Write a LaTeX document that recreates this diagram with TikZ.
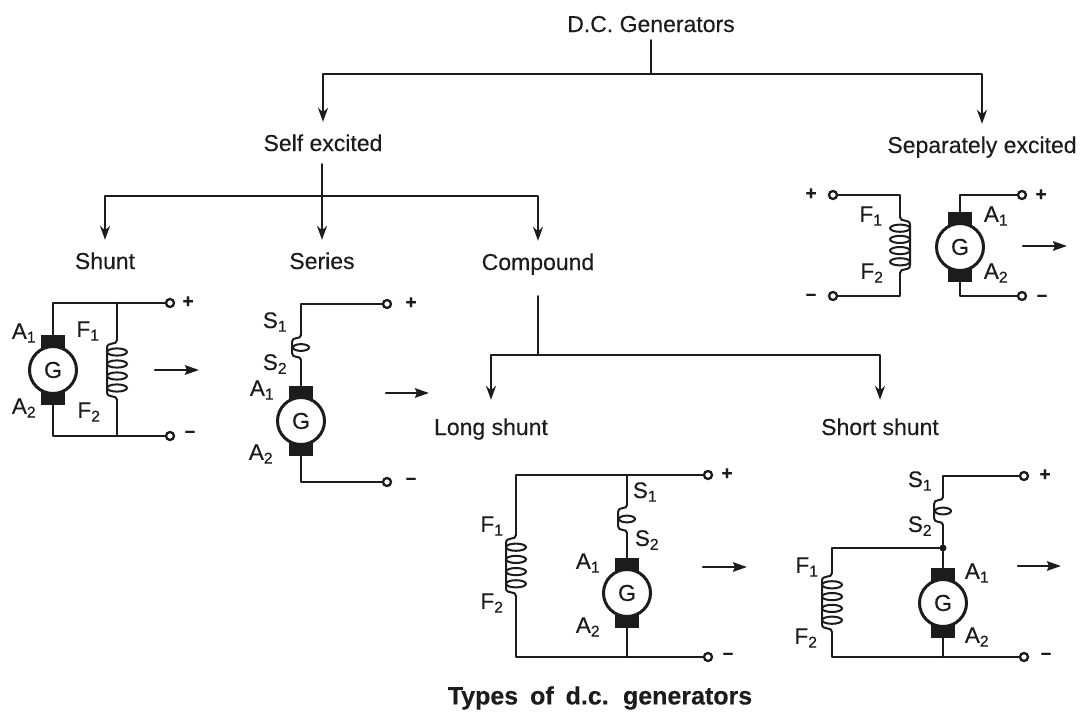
\documentclass[tikz,border=0pt]{standalone}
\usepackage{fontspec}
\setmainfont[FakeBold=0.3]{Liberation Sans}
\usetikzlibrary{arrows.meta}
\definecolor{ink}{HTML}{1C1C1C}
\tikzset{
  wire/.style={draw=ink,line width=2.2pt,line cap=round,line join=round},
  tip/.style={wire,-{Stealth[length=14pt,width=10pt]}},
  loadarrow/.style={wire,line width=2.2pt,-{Stealth[length=14pt,width=9.5pt,inset=2pt]}},
  treelabel/.style={text=ink,font=\fontsize{23}{25}\selectfont,text height=17pt,text depth=1pt,inner xsep=0pt,inner ysep=12pt},
  tag/.style={text=ink,font=\fontsize{22.5}{24}\selectfont,inner sep=0pt},
  sign/.style={text=ink,font=\bfseries\fontsize{19}{20}\selectfont,inner sep=0pt},
  gencirc/.style={circle,draw=ink,line width=3pt,fill=white,minimum size=47pt,inner sep=0pt,text=ink,font=\fontsize{23}{24}\selectfont},
  brush/.style={rectangle,fill=ink,minimum width=24pt,minimum height=13pt,inner sep=0pt},
  terminal/.style={circle,draw=ink,line width=2.3pt,fill=white,minimum size=8pt,inner sep=0pt},
  dotnode/.style={circle,fill=ink,minimum size=7pt,inner sep=0pt},
  coilline/.style={draw=ink,line width=2pt,line cap=round},
}
% name, x, y
\newcommand\gen[3]{%
  \node[brush] (#1t) at (#2,#3-29) {};
  \node[brush] (#1b) at (#2,#3+28) {};
  \node[gencirc] (#1) at (#2,#3) {G};
}
% name, x, ytop, ybottom, side (+1 right bulge of the return line / -1), number of loops
\newcommand\coil[6]{%
  \coordinate (#1t) at (#2,#3);
  \coordinate (#1b) at (#2,#4);
  \draw[coilline] (#1t) .. controls (#2,#3+6) and (#2+#5*10,#3+1) .. (#2+#5*10,#3+8)
     -- (#2+#5*10,#4-8) .. controls (#2+#5*10,#4-1) and (#2,#4-6) .. (#1b);
  \foreach \k in {1,...,#6}{
    \pgfmathsetmacro\yy{#3+(#4-#3)*\k/(#6+1)}
    \draw[coilline] (#2,\yy) ellipse [x radius=10pt,y radius=3.6pt];
  }
}
\newcommand\smallcoil[4]{%
  \coordinate (#1t) at (#2,#3);
  \coordinate (#1b) at (#2,#4);
  \pgfmathsetmacro\ym{(#3+#4)/2}
  \draw[coilline] (#1t) .. controls (#2,#3+5) and (#2-9,#3+1) .. (#2-9,#3+7)
     -- (#2-9,#4-7) .. controls (#2-9,#4-1) and (#2,#4-5) .. (#1b);
  \draw[coilline] (#2,\ym) ellipse [x radius=8pt,y radius=3.4pt];
}
\begin{document}
\begin{tikzpicture}[x=1pt,y=-1pt]
\useasboundingbox (0,0) rectangle (1080,712);
% ---------- tree
\node[treelabel,inner ysep=7pt] (root) at (651,24) {D.C. Generators};
\node[treelabel] (self) at (323,143) {Self excited};
\node[treelabel] (sep) at (982,145) {Separately excited};
\node[treelabel] (shunt) at (105,261) {Shunt};
\node[treelabel] (series) at (322,261) {Series};
\node[treelabel] (comp) at (538,262) {Compound};
\node[treelabel] (long) at (491,427) {Long shunt};
\node[treelabel] (short) at (880,427) {Short shunt};
\coordinate (rj) at (651,74);
\coordinate (sj) at (322,196);
\coordinate (cj) at (538,355);
\draw[wire] (root.south) -- (rj);
\draw[tip] (rj) -| (self);
\draw[tip] (rj) -| (sep);
\draw[tip] (self.south -| sj) -- (series);
\draw[tip] (sj) -| (shunt);
\draw[tip] (sj) -| (comp);
\draw[wire,shorten <=13pt] (comp.south) -- (cj);
\draw[tip,shorten >=6pt] (cj) -| (long);
\draw[tip,shorten >=6pt] (cj) -| (short);
% ---------- shunt
\gen{ga}{53}{370}
\coil{ca}{117}{340}{400}{-1}{4}
\node[terminal] (tap) at (170,303) {};
\node[terminal] (tam) at (170,436) {};
\coordinate (jap) at (117,303);
\coordinate (jam) at (117,436);
\draw[wire] (gat.north) |- (jap);
\draw[wire] (jap) -- (tap);
\draw[wire] (jap) -- (cat);
\draw[wire] (gab.south) |- (jam);
\draw[wire] (jam) -- (tam);
\draw[wire] (jam) -- (cab);
\node[sign] (spa) at (188,302) {+};
\node[sign] (sma) at (190,434) {–};
\node[tag] (a1a) at (24,333) {A\textsubscript{1}};
\node[tag] (a2a) at (24,408) {A\textsubscript{2}};
\node[tag] (f1a) at (88,331) {F\textsubscript{1}};
\node[tag] (f2a) at (89,412) {F\textsubscript{2}};
\coordinate (laa) at (155,370); \coordinate (lab) at (199,370);
\draw[loadarrow] (laa) -- (lab);
% ---------- series
\gen{gb}{301}{421}
\smallcoil{cb}{301}{335}{360}
\node[terminal] (tbp) at (387,304) {};
\node[terminal] (tbm) at (387,482) {};
\draw[wire] (cbt) |- (tbp);
\draw[wire] (cbb) -- (gbt.north);
\draw[wire] (gbb.south) |- (tbm);
\node[sign] (spb) at (411,303) {+};
\node[sign] (smb) at (411,481) {–};
\node[tag] (s1b) at (275,322) {S\textsubscript{1}};
\node[tag] (s2b) at (275,364) {S\textsubscript{2}};
\node[tag] (a1b) at (262,390) {A\textsubscript{1}};
\node[tag] (a2b) at (261,454) {A\textsubscript{2}};
\coordinate (lba) at (386,393); \coordinate (lbb) at (429,393);
\draw[loadarrow] (lba) -- (lbb);
% ---------- separately excited
\gen{gc}{960}{247}
\coil{cc}{900}{217}{273}{1}{4}
\node[terminal] (tcl) at (833,195) {};
\node[terminal] (tcm) at (833,296) {};
\node[terminal] (tcp) at (1022,195) {};
\node[terminal] (tcn) at (1022,296) {};
\draw[wire] (tcl) -| (cct);
\draw[wire] (tcm) -| (ccb);
\draw[wire] (gct.north) |- (tcp);
\draw[wire] (gcb.south) |- (tcn);
\node[sign] (spc) at (811,194) {+};
\node[sign] (smc) at (811,297) {–};
\node[sign] (spd) at (1041,195) {+};
\node[sign] (smd) at (1042,298) {–};
\node[tag] (f1c) at (871,216) {F\textsubscript{1}};
\node[tag] (f2c) at (872,273) {F\textsubscript{2}};
\node[tag] (a1c) at (996,216) {A\textsubscript{1}};
\node[tag] (a2c) at (996,273) {A\textsubscript{2}};
\coordinate (lca) at (1023,246); \coordinate (lcb) at (1067,246);
\draw[loadarrow] (lca) -- (lcb);
% ---------- long shunt
\gen{gd}{627}{593}
\coil{cd}{516}{535}{596}{-1}{4}
\smallcoil{ce}{627}{505}{533}
\node[terminal] (tdp) at (708,475) {};
\node[terminal] (tdm) at (708,657) {};
\coordinate (jdp) at (627,475);
\coordinate (jdm) at (627,657);
\draw[wire] (cdt) |- (jdp);
\draw[wire] (jdp) -- (tdp);
\draw[wire] (jdp) -- (cet);
\draw[wire] (ceb) -- (gdt.north);
\draw[wire] (cdb) |- (jdm);
\draw[wire] (jdm) -- (tdm);
\draw[wire] (gdb.south) -- (jdm);
\node[sign] (spe) at (727,474) {+};
\node[sign] (sme) at (728,656) {–};
\node[tag] (f1d) at (492,526) {F\textsubscript{1}};
\node[tag] (f2d) at (492,603) {F\textsubscript{2}};
\node[tag] (s1d) at (645,492) {S\textsubscript{1}};
\node[tag] (s2d) at (647,540) {S\textsubscript{2}};
\node[tag] (a1d) at (588,563) {A\textsubscript{1}};
\node[tag] (a2d) at (588,627) {A\textsubscript{2}};
\coordinate (lda) at (703,567); \coordinate (ldb) at (747,567);
\draw[loadarrow] (lda) -- (ldb);
% ---------- short shunt
\gen{ge}{943}{603}
\coil{cf}{832}{573}{632}{-1}{4}
\smallcoil{cg}{943}{497}{525}
\node[terminal] (tep) at (1024,476) {};
\node[terminal] (tem) at (1024,657) {};
\node[dotnode] (jeb) at (943,548) {};
\coordinate (jem) at (943,657);
\draw[wire] (cgt) |- (tep);
\draw[wire] (cgb) -- (jeb);
\draw[wire] (jeb) -- (get.north);
\draw[wire] (jeb) -| (cft);
\draw[wire] (cfb) |- (jem);
\draw[wire] (jem) -- (tem);
\draw[wire] (geb.south) -- (jem);
\node[sign] (spf) at (1045,475) {+};
\node[sign] (smf) at (1046,656) {–};
\node[tag] (s1e) at (920,481) {S\textsubscript{1}};
\node[tag] (s2e) at (920,526) {S\textsubscript{2}};
\node[tag] (f1e) at (807,567) {F\textsubscript{1}};
\node[tag] (f2e) at (806,638) {F\textsubscript{2}};
\node[tag] (a1e) at (977,573) {A\textsubscript{1}};
\node[tag] (a2e) at (977,637) {A\textsubscript{2}};
\coordinate (lea) at (1018,566); \coordinate (leb) at (1061,566);
\draw[loadarrow] (lea) -- (leb);
% ---------- caption
\node[text=ink,font=\bfseries\fontsize{25}{28}\selectfont,inner sep=0pt] (cap) at (600,698) {Types\hspace{5pt} of\hspace{5pt} d.c.\hspace{5pt} generators};
\end{tikzpicture}
\end{document}
